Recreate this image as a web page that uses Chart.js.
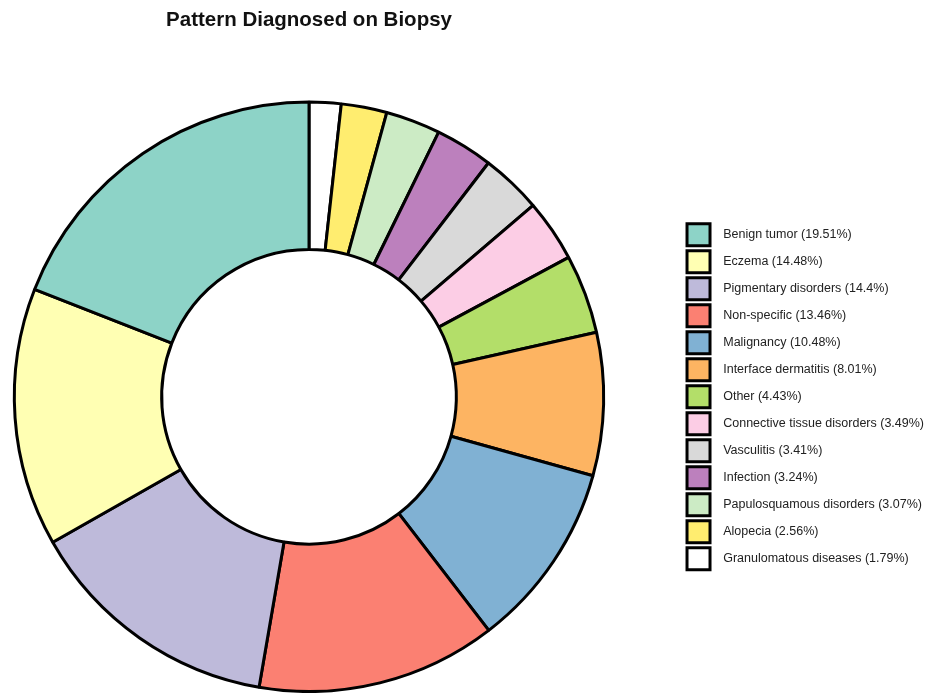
<!DOCTYPE html>
<html>
<head>
<meta charset="utf-8">
<script src="https://cdn.jsdelivr.net/npm/chart.js@4.4.1/dist/chart.umd.min.js"></script>
<style>
    html, body { margin: 0; padding: 0; background: #fff; overflow: hidden; }
    /* el lienzo se corre a la izquierda para que el anillo quede centrado como en el original */
    #grafico { display: block; margin-left: -64px; }
</style>
</head>
<body>
<canvas id="grafico" width="998" height="693"></canvas>
<script>
// Categorías y porcentajes, en el orden de la leyenda
const categorias = [
    "Benign tumor", "Eczema", "Pigmentary disorders", "Non-specific", "Malignancy",
    "Interface dermatitis", "Other", "Connective tissue disorders", "Vasculitis",
    "Infection", "Papulosquamous disorders", "Alopecia", "Granulomatous diseases"
];
const porcentajes = [19.51, 14.48, 14.4, 13.46, 10.48, 8.01, 4.43, 3.49, 3.41, 3.24, 3.07, 2.56, 1.79];
const colores = [
    "#8DD3C7", "#FFFFB3", "#BEBADA", "#FB8072", "#80B1D3", "#FDB462", "#B3DE69",
    "#FCCDE5", "#D9D9D9", "#BC80BD", "#CCEBC5", "#FFED6F", "#FFFFFF"
];

// Etiquetas con el porcentaje (dos espacios delante para separar el texto del cuadro)
const etiquetas = categorias.map((c, i) => "  " + c + " (" + porcentajes[i] + "%)");

// El gráfico original va en sentido antihorario, así que invertimos el orden
const etiquetasInv = etiquetas.slice().reverse();
const datosInv = porcentajes.slice().reverse();
const coloresInv = colores.slice().reverse();

const ctx = document.getElementById("grafico").getContext("2d");

const grafico = new Chart(ctx, {
    type: "doughnut",
    data: {
        labels: etiquetasInv,
        datasets: [{
            data: datosInv,
            backgroundColor: coloresInv,
            borderColor: "#000000",
            borderWidth: 3,
            hoverOffset: 0
        }]
    },
    options: {
        responsive: false,
        animation: false,
        cutout: "50%",
        rotation: 0,
        plugins: {
            title: {
                display: true,
                text: "Pattern Diagnosed on Biopsy",
                fullSize: false,
                color: "#111111",
                font: { family: "'Liberation Sans', Arial, sans-serif", size: 20.5, weight: "bold" },
                padding: { top: 8, bottom: 68 }
            },
            legend: {
                position: "right",
                fullSize: false,
                reverse: true,
                labels: {
                    boxWidth: 23,
                    boxHeight: 22,
                    padding: 5,
                    color: "#222222",
                    font: { family: "'Liberation Sans', Arial, sans-serif", size: 12.5 }
                }
            },
            tooltip: { enabled: false }
        }
    }
});
</script>
</body>
</html>
